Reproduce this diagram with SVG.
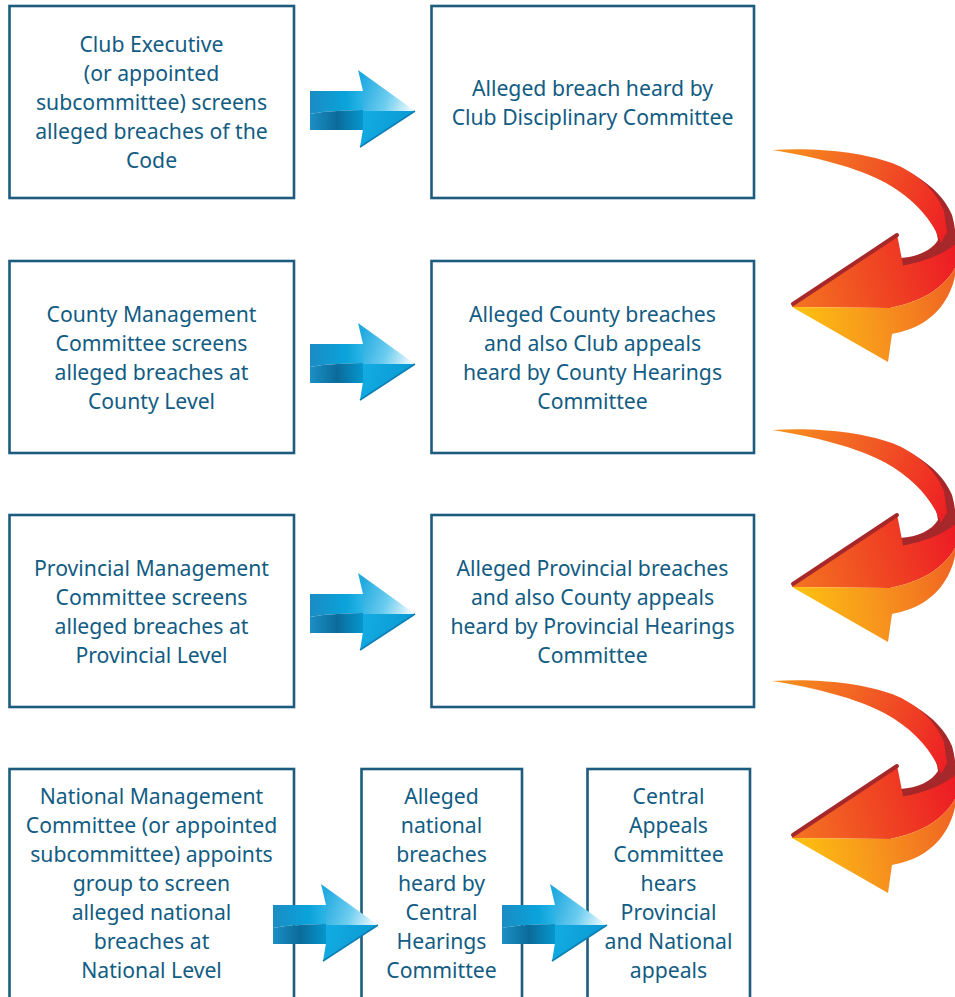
<svg xmlns="http://www.w3.org/2000/svg" xmlns:xlink="http://www.w3.org/1999/xlink" width="955" height="997" viewBox="0 0 955 997">
<style>
.box{fill:#ffffff;stroke:#1d5c7e;stroke-width:2.6}
.t{font-family:"Noto Sans","Open Sans","DejaVu Sans",sans-serif;font-size:21.2px;fill:#125c83;text-anchor:middle}
</style>
<defs>
<linearGradient id="bShaftU" x1="0" y1="0" x2="60" y2="0" gradientUnits="userSpaceOnUse">
<stop offset="0" stop-color="#1b8cc3"/><stop offset="0.6" stop-color="#0aa3db"/><stop offset="1" stop-color="#39bde9"/>
</linearGradient>
<linearGradient id="bShaftL" x1="0" y1="0" x2="60" y2="0" gradientUnits="userSpaceOnUse">
<stop offset="0" stop-color="#1c8fc4"/><stop offset="0.45" stop-color="#0b6b9b"/><stop offset="1" stop-color="#05a2da"/>
</linearGradient>
<linearGradient id="bHeadU" x1="48" y1="20" x2="100" y2="38" gradientUnits="userSpaceOnUse">
<stop offset="0" stop-color="#20a9e0"/><stop offset="0.55" stop-color="#6cccef"/><stop offset="1" stop-color="#e4f6fc"/>
</linearGradient>
<linearGradient id="bHeadL" x1="50" y1="42" x2="100" y2="60" gradientUnits="userSpaceOnUse">
<stop offset="0" stop-color="#14ace4"/><stop offset="1" stop-color="#0a9ad3"/>
</linearGradient>
<linearGradient id="rUp" x1="772" y1="150" x2="955" y2="225" gradientUnits="userSpaceOnUse">
<stop offset="0" stop-color="#f7941d"/><stop offset="0.5" stop-color="#f15a24"/><stop offset="1" stop-color="#ed1c24"/>
</linearGradient>
<linearGradient id="rHead" x1="792" y1="300" x2="955" y2="255" gradientUnits="userSpaceOnUse">
<stop offset="0" stop-color="#f47421"/><stop offset="0.6" stop-color="#ef4023"/><stop offset="1" stop-color="#ed1c24"/>
</linearGradient>
<linearGradient id="rLow" x1="795" y1="320" x2="955" y2="295" gradientUnits="userSpaceOnUse">
<stop offset="0" stop-color="#fdc210"/><stop offset="0.5" stop-color="#f7941d"/><stop offset="1" stop-color="#f06522"/>
</linearGradient>
<g id="blue">
<path d="M0,21 H58 V40 C40,40 15,41 0,44 Z" fill="url(#bShaftU)"/>
<path d="M0,44 C15,41 40,40 58,40 V60 H0 Z" fill="url(#bShaftL)"/>
<path d="M48,0 L105,41 L53,41 L53,21 Z" fill="url(#bHeadU)"/>
<path d="M53,41 L105,41 L50,77 L53,59 Z" fill="url(#bHeadL)"/>
<path d="M105,41 L50,77" stroke="#0b7fb5" stroke-width="1.5" fill="none"/>
</g>
<g id="red">
<path d="M850,155 C900,160 940,185 952,215 C957,232 957,252 951,268 C935,263 915,263 902,266 L900,258 C918,257 932,250 938,240 C935,215 915,190 880,172 Z" fill="#a7282a"/>
<path d="M772,150 C815,147 862,152 892,163 C918,173 936,191 944,211 L947,232 L941,243 C933,220 913,198 886,183 C856,167 816,157 772,150 Z" fill="url(#rUp)"/>
<path d="M792,305 L897,234 L903,265 C922,262 942,254 955,244 L955,268 C945,286 925,301 890,308 L792,307 Z" fill="url(#rHead)"/>
<path d="M792,307 L890,308 C925,301 945,286 955,268 L955,276 C950,300 935,318 915,327 C905,331 897,333 892,334 L888,362 Z" fill="url(#rLow)"/>
<path d="M793,304 L897,235" stroke="#a7282a" stroke-width="4" stroke-linecap="round" fill="none"/>
<path d="M903,264 C922,261 942,253 954,243" stroke="#a7282a" stroke-width="3" fill="none"/>
</g>
</defs>

<g id="node-club-exec">
<rect class="box" x="9.5" y="6" width="284.5" height="192"/>
<text class="t" x="151.5" y="52">Club Executive</text>
<text class="t" x="151.5" y="81">(or appointed</text>
<text class="t" x="151.5" y="110">subcommittee) screens</text>
<text class="t" x="151.5" y="139">alleged breaches of the</text>
<text class="t" x="151.5" y="168">Code</text>
</g>
<g id="node-club-disc">
<rect class="box" x="431.5" y="6" width="322.5" height="192"/>
<text class="t" x="592.5" y="95.5">Alleged breach heard by</text>
<text class="t" x="592.5" y="124.5">Club Disciplinary Committee</text>
</g>
<g id="node-county-mgmt">
<rect class="box" x="9.5" y="261" width="284.5" height="192"/>
<text class="t" x="151.5" y="321.5">County Management</text>
<text class="t" x="151.5" y="350.5">Committee screens</text>
<text class="t" x="151.5" y="379.5">alleged breaches at</text>
<text class="t" x="151.5" y="408.5">County Level</text>
</g>
<g id="node-county-hear">
<rect class="box" x="431.5" y="261" width="322.5" height="192"/>
<text class="t" x="592.5" y="321.5">Alleged County breaches</text>
<text class="t" x="592.5" y="350.5">and also Club appeals</text>
<text class="t" x="592.5" y="379.5">heard by County Hearings</text>
<text class="t" x="592.5" y="408.5">Committee</text>
</g>
<g id="node-prov-mgmt">
<rect class="box" x="9.5" y="515" width="284.5" height="192"/>
<text class="t" x="151.5" y="575.5">Provincial Management</text>
<text class="t" x="151.5" y="604.5">Committee screens</text>
<text class="t" x="151.5" y="633.5">alleged breaches at</text>
<text class="t" x="151.5" y="662.5">Provincial Level</text>
</g>
<g id="node-prov-hear">
<rect class="box" x="431.5" y="515" width="322.5" height="192"/>
<text class="t" x="592.5" y="575.5">Alleged Provincial breaches</text>
<text class="t" x="592.5" y="604.5">and also County appeals</text>
<text class="t" x="592.5" y="633.5">heard by Provincial Hearings</text>
<text class="t" x="592.5" y="662.5">Committee</text>
</g>
<g id="node-nat-mgmt">
<rect class="box" x="9.5" y="769" width="284.5" height="240"/>
<text class="t" x="151.5" y="804">National Management</text>
<text class="t" x="151.5" y="833">Committee (or appointed</text>
<text class="t" x="151.5" y="862">subcommittee) appoints</text>
<text class="t" x="151.5" y="891">group to screen</text>
<text class="t" x="151.5" y="920">alleged national</text>
<text class="t" x="151.5" y="949">breaches at</text>
<text class="t" x="151.5" y="978">National Level</text>
</g>
<g id="node-central-hear">
<rect class="box" x="361.5" y="769" width="160.5" height="240"/>
<text class="t" x="441.5" y="804">Alleged</text>
<text class="t" x="441.5" y="833">national</text>
<text class="t" x="441.5" y="862">breaches</text>
<text class="t" x="441.5" y="891">heard by</text>
<text class="t" x="441.5" y="920">Central</text>
<text class="t" x="441.5" y="949">Hearings</text>
<text class="t" x="441.5" y="978">Committee</text>
</g>
<g id="node-central-appeals">
<rect class="box" x="587.5" y="769" width="162.5" height="240"/>
<text class="t" x="668.5" y="804">Central</text>
<text class="t" x="668.5" y="833">Appeals</text>
<text class="t" x="668.5" y="862">Committee</text>
<text class="t" x="668.5" y="891">hears</text>
<text class="t" x="668.5" y="920">Provincial</text>
<text class="t" x="668.5" y="949">and National</text>
<text class="t" x="668.5" y="978">appeals</text>
</g>

<g id="connectors">
<use xlink:href="#blue" href="#blue" transform="translate(310,70)"/>
<use xlink:href="#blue" href="#blue" transform="translate(310,323)"/>
<use xlink:href="#blue" href="#blue" transform="translate(310,573)"/>
<use xlink:href="#blue" href="#blue" transform="translate(273,884)"/>
<use xlink:href="#blue" href="#blue" transform="translate(502,884)"/>
<use xlink:href="#red" href="#red"/>
<use xlink:href="#red" href="#red" transform="translate(0,280)"/>
<use xlink:href="#red" href="#red" transform="translate(0,531)"/>
</g>
</svg>
